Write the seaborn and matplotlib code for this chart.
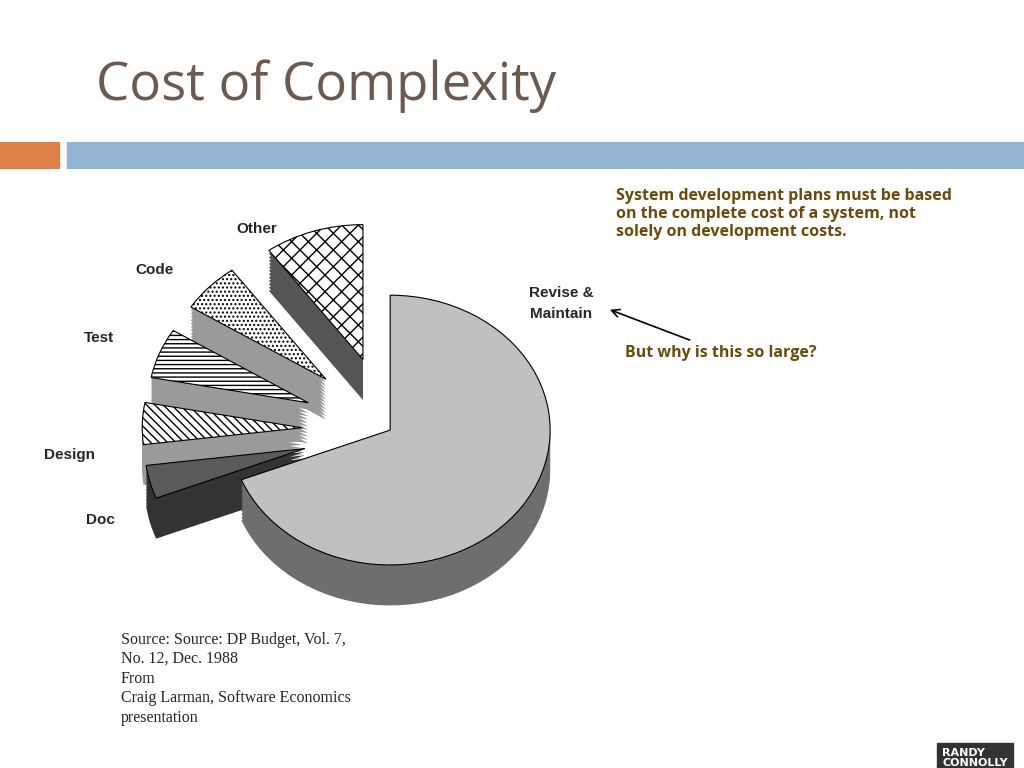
import matplotlib
matplotlib.use("Agg")
import matplotlib.pyplot as plt
import seaborn as sns

sns.set_theme(style="white")

# data
labels = ["Revise &\nMaintain", "Doc", "Design", "Test", "Code", "Other"]
shares = [69, 4, 5, 6, 6, 10]
explode = [0, 0.55, 0.55, 0.55, 0.55, 0.55]
tops = ["#c0c0c0", "#5a5a5a", "#ffffff", "#ffffff", "#ffffff", "#ffffff"]
sides = ["#6e6e6e", "#333333", "#9a9a9a", "#9a9a9a", "#9a9a9a", "#555555"]
hatches = [None, None, "\\\\\\\\", "----", "....", "xx"]

fig = plt.figure(figsize=(10.24, 7.68), dpi=100)
fig.patch.set_facecolor("white")

# header
fig.text(0.094, 0.87, "Cost of Complexity", fontsize=38, color="#6b5a4e",
         family="Open Sans")
hdr = fig.add_axes([0, 0.78, 1, 0.035])
hdr.axis("off")
hdr.add_patch(plt.Rectangle((0, 0), 0.058, 1, color="#dd8147", transform=hdr.transAxes))
hdr.add_patch(plt.Rectangle((0.065, 0), 0.935, 1, color="#93b5d4", transform=hdr.transAxes))

ax = fig.add_axes([0.131, 0.159, 0.5, 0.562])
depth = 0.3
steps = 12
for i in range(steps, 0, -1):
    off = -depth * i / steps
    w, _ = ax.pie(shares, explode=explode, startangle=90, counterclock=False,
                  colors=sides, center=(0, off),
                  wedgeprops=dict(edgecolor="none"))
w, _ = ax.pie(shares, explode=explode, startangle=90, counterclock=False,
              colors=tops, center=(0, 0),
              wedgeprops=dict(edgecolor="black", linewidth=0.8))
for wedge, h in zip(w, hatches):
    if h:
        wedge.set_hatch(h)
ax.set_xlim(-1.6, 1.6)
ax.set_ylim(-1.6, 1.6)
ax.set_aspect("auto")
ax.axis("off")

lab_pos = [(0.548, 0.605), (0.098, 0.323), (0.068, 0.407), (0.097, 0.56),
           (0.151, 0.649), (0.251, 0.702)]
for (x, y), t in zip(lab_pos, labels):
    fig.text(x, y, t, ha="center", va="center", fontsize=11, fontweight="bold",
             family="Liberation Sans", linespacing=1.6)

fig.text(0.602, 0.693, "System development plans must be based\non the complete cost of a system, not\nsolely on development costs.",
         fontsize=11.5, fontweight="bold", color="#6b4a0a", family="Open Sans",
         linespacing=1.15)
fig.text(0.61, 0.535, "But why is this so large?", fontsize=11.5, fontweight="bold",
         color="#6b4a0a", family="Open Sans")
fig.add_artist(matplotlib.patches.FancyArrowPatch(
    (0.676, 0.556), (0.593, 0.598), transform=fig.transFigure,
    arrowstyle="->", mutation_scale=14, color="black", lw=1.2))

fig.text(0.118, 0.06, "Source: Source: DP Budget, Vol. 7,\nNo. 12, Dec. 1988\nFrom\nCraig Larman, Software Economics\npresentation",
         fontsize=11.5, family="Liberation Serif", linespacing=1.3)
fig.text(0.92, 0.003, "RANDY\nCONNOLLY", fontsize=8, fontweight="bold", color="white",
         backgroundcolor="#333333", linespacing=0.9)

fig.savefig("out.png", dpi=100)
